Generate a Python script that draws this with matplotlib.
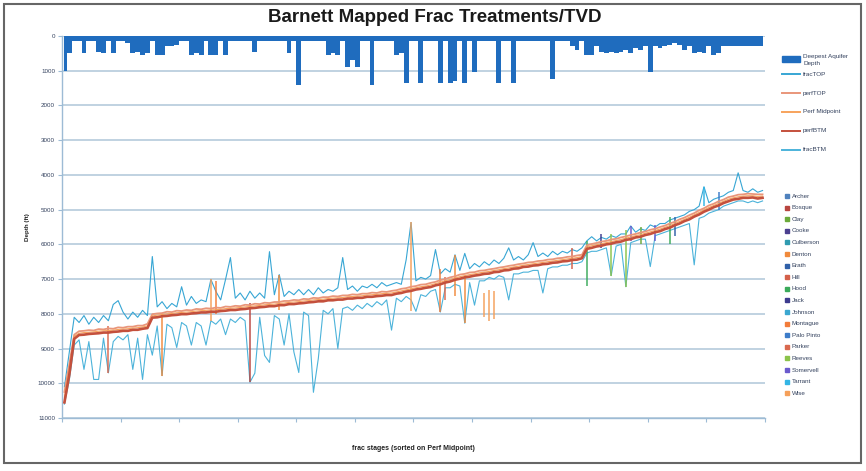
#Barnett mapped frac treatments vs TVD
import numpy as np
import matplotlib
matplotlib.use("Agg")
import matplotlib.pyplot as plt
from matplotlib.lines import Line2D
from matplotlib.patches import Rectangle

plt.rcParams['font.family'] = ['Liberation Sans', 'DejaVu Sans']

# --- data (depths in ft, one value per frac stage, stages sorted on perf midpoint) ---
perf_mid = [
    10400, 9600, 8650, 8560, 8540, 8530, 8520, 8500, 8490, 8480, 8470, 8450, 8440, 8430, 8410, 8400, 8380, 8350,
    8060, 8040, 8020, 8000, 7990, 7970, 7960, 7950, 7940, 7920, 7910, 7900, 7890, 7880, 7870, 7850, 7840, 7830,
    7820, 7800, 7790, 7770, 7760, 7740, 7730, 7720, 7700, 7690, 7670, 7660, 7650,
    7630, 7620, 7600, 7590, 7580, 7560, 7550, 7540, 7530, 7510, 7500, 7490, 7480, 7460, 7450, 7440, 7420, 7410, 7400,
    7370, 7340, 7310, 7280, 7250, 7220, 7200, 7170, 7130, 7090, 7050, 7010, 6970, 6930,
    6900, 6870, 6850, 6820, 6800, 6780, 6750, 6730, 6700, 6680, 6650, 6630, 6600, 6580, 6560, 6540, 6520, 6500,
    6480, 6460, 6440, 6420, 6400, 6380, 6350,
    6080, 6040, 6010, 5980, 5950, 5920, 5890, 5860, 5820, 5790, 5750, 5720, 5680, 5640, 5600, 5560, 5510, 5460, 5400, 5340,
    5280, 5220, 5150, 5080, 5010, 4940, 4880, 4820, 4760, 4700, 4660, 4630, 4610, 4600, 4600, 4620, 4610]

perf_top = [
    10250, 9450, 8600, 8500, 8490, 8470, 8480, 8440, 8450, 8420, 8430, 8390, 8400, 8370, 8370, 8340, 8340, 8290,
    8010, 7990, 7980, 7940, 7950, 7910, 7920, 7890, 7900, 7860, 7870, 7840, 7850, 7820, 7830, 7790, 7800, 7770,
    7780, 7740, 7750, 7710, 7720, 7680, 7690, 7660, 7660, 7630, 7630, 7600, 7610,
    7570, 7580, 7540, 7550, 7520, 7520, 7490, 7500, 7470, 7470, 7440, 7450, 7420, 7420, 7390, 7400, 7360, 7370, 7340,
    7320, 7280, 7260, 7220, 7200, 7160, 7150, 7110, 7080, 7030, 7000, 6950, 6920, 6870,
    6850, 6810, 6800, 6760, 6750, 6720, 6700, 6670, 6650, 6620, 6600, 6570, 6550, 6520, 6510, 6480, 6470, 6440,
    6430, 6400, 6390, 6360, 6350, 6320, 6300,
    6030, 5990, 5960, 5920, 5900, 5860, 5840, 5800, 5770, 5730, 5700, 5660, 5630, 5580, 5550, 5500, 5460, 5400, 5350, 5280,
    5230, 5160, 5100, 5020, 4960, 4880, 4830, 4760, 4710, 4640, 4610, 4570, 4560, 4540, 4550, 4560, 4560]

perf_btm = [
    10550, 9750, 8720, 8610, 8600, 8580, 8570, 8560, 8540, 8540, 8520, 8510, 8490, 8490, 8460, 8460, 8430, 8410,
    8110, 8100, 8070, 8060, 8040, 8030, 8010, 8010, 7990, 7980, 7960, 7960, 7940, 7940, 7920, 7910, 7890, 7890,
    7870, 7860, 7840, 7830, 7810, 7800, 7780, 7780, 7750, 7750, 7720, 7720, 7700,
    7690, 7670, 7660, 7640, 7640, 7610, 7610, 7590, 7590, 7560, 7560, 7540, 7540, 7510, 7510, 7490, 7480, 7460, 7460,
    7420, 7400, 7360, 7340, 7300, 7280, 7250, 7230, 7180, 7150, 7100, 7070, 7020, 6990,
    6950, 6930, 6900, 6880, 6850, 6840, 6800, 6790, 6750, 6740, 6700, 6690, 6650, 6640, 6610, 6600, 6570, 6560,
    6530, 6520, 6490, 6480, 6450, 6440, 6400,
    6130, 6100, 6060, 6040, 6000, 5980, 5940, 5920, 5870, 5850, 5800, 5780, 5730, 5700, 5650, 5620, 5560, 5520, 5450, 5400,
    5330, 5280, 5200, 5140, 5060, 5000, 4930, 4880, 4810, 4760, 4710, 4690, 4660, 4660, 4650, 4680, 4660]

frac_top = [
    10100, 9100, 8100, 8250, 8050, 8300, 8100, 8250, 8050, 8200, 7730, 7620, 7950, 8150, 7950, 8100, 7900, 8050,
    6350, 7800, 7650, 7850, 7700, 7800, 7220, 7750, 7500, 7700, 7600, 7650, 7010, 7350, 7600, 7010, 6380, 7550,
    7400, 7600, 7350, 7550, 7400, 7550, 6210, 7450, 6870, 7500, 7350, 7450, 7300,
    7450, 7300, 7450, 7250, 7400, 7300, 7350, 7250, 6380, 7300, 7200, 7350, 7200, 7250, 7150, 7250, 7100, 7200, 7150,
    7100, 7150, 6440, 5370, 7050, 6950, 7000, 6900, 6150, 6850, 6700, 6800, 6300, 6750,
    6260, 6700, 6550, 6650, 6500, 6600, 6450, 6550, 6400, 6100, 6450, 6350, 6450, 6300, 5950, 6350, 6250, 6350,
    6200, 6300, 6200, 6250, 6150, 6200, 6100,
    5900, 5780, 5900, 5800, 5850, 5750, 5800, 5700, 5700, 5470, 5650, 5550, 5600, 5440, 5500, 5400, 5400, 5300, 5250, 5200,
    5150, 5050, 5000, 4900, 4340, 4800, 4700, 4650, 4600, 4500, 4450, 3940, 4450, 4500, 4400, 4500, 4450]

frac_btm = [
    10600, 9900, 8900, 8750, 9600, 8800, 9890, 9890, 8700, 9700, 8800, 8650, 8750, 8600, 9600, 8700, 9890, 8600,
    9190, 8350, 9780, 8300, 8400, 8970, 8250, 8350, 8900, 8250, 8350, 8900, 8200, 8300, 8150, 8600, 8150, 8250,
    8100, 8200, 9970, 9710, 8100, 9200, 9400, 8050, 8150, 8900, 8000, 9100, 9690,
    7950, 8050, 10260, 9290, 7900, 8000, 7850, 9000, 7850, 7800, 7900, 7750, 7850, 7700, 7800, 7650, 7750, 7600, 8470,
    7550, 7650, 7500, 7600, 7930, 7450, 7500, 7350, 7300, 7950, 7250, 7250, 7150, 7200,
    8270, 7100, 7750, 7050, 7050, 6950, 7000, 6900, 6950, 7600, 6850, 6850, 6800, 6800, 6750, 6750, 7400, 6700,
    6650, 6650, 6600, 6600, 6550, 6550, 6500,
    6250, 6200, 6200, 6150, 6100, 6900, 6050, 6000, 7220, 5950, 5900, 5850, 5850, 6640, 5750, 5700, 5650, 5600, 5550, 5500,
    5450, 5400, 6590, 5250, 5200, 5100, 5050, 5000, 4900, 4850, 4800, 4750, 4750, 4800, 4750, 4800, 4750]

aquifer_depth = [
    1000, 500, 150, 150, 500, 150, 150, 450, 500, 150, 500, 150, 150, 200, 500, 450, 550, 500,
    150, 550, 550, 300, 300, 250, 150, 150, 550, 500, 550, 150, 550, 550, 150, 550, 150, 150,
    150, 150, 150, 450, 150, 150, 150, 150, 150, 150, 500, 150, 1400,
    150, 150, 150, 150, 150, 550, 500, 550, 150, 900, 700, 900, 150, 150, 1400, 150, 150, 150, 150,
    550, 500, 1350, 150, 150, 1350, 150, 150, 150, 1350, 150, 1350, 1300, 150,
    1350, 150, 1050, 150, 150, 150, 150, 1350, 150, 150, 1350, 150, 150, 150, 150, 150, 150, 150,
    1250, 150, 150, 150, 300, 400, 150,
    550, 550, 300, 450, 500, 450, 500, 450, 400, 500, 350, 400, 300, 1050, 300, 350, 300, 250, 200, 250,
    400, 300, 500, 450, 500, 300, 550, 500, 300, 300, 300, 300, 300, 300, 300, 300, 300]

counties = ["Archer", "Bosque", "Clay", "Cooke", "Culberson", "Denton", "Erath", "Hill", "Hood",
            "Jack", "Johnson", "Montague", "Palo Pinto", "Parker", "Reeves", "Somervell", "Tarrant", "Wise"]

# county-coloured frac intervals overlaid on the stage plot (stage, top, bottom)
ov_county = ["Wise", "Wise", "Wise", "Wise", "Wise", "Denton", "Denton", "Denton", "Denton",
             "Parker", "Parker", "Hood", "Hood", "Reeves", "Reeves", "Somervell", "Somervell",
             "Jack", "Bosque", "Tarrant", "Palo Pinto", "Montague", "Montague", "Hill", "Clay", "Erath"]
ov_stage = [71, 86, 87, 88, 30, 20, 44, 80, 82, 9, 78, 107, 124, 112, 115, 116, 121, 110, 38, 131, 134, 31, 77,
            104, 118, 125]
ov_top = [5370, 7400, 7300, 7350, 7010, 8000, 6870, 6300, 6900, 8350, 6950, 5900, 5200, 5700, 5600, 5470, 5450,
          5700, 7700, 4340, 4500, 7050, 6700, 6100, 5500, 5200]
ov_btm = [7930, 8100, 8200, 8150, 8200, 9780, 7900, 7500, 8270, 9700, 7600, 7200, 6000, 6900, 7220, 5900, 5900,
          6100, 9970, 4900, 5000, 8000, 7950, 6700, 6000, 5750]

# --- styles ---
county_colors = ['#4F81BD', '#B8453F', '#6BAA3A', '#4B3F8F', '#2F9BB0', '#F08A3C', '#3060A8', '#D4604A', '#3AAA5A',
                 '#3D3B8E', '#3BA7D0', '#F27C3A', '#3D7CC9', '#D9694F', '#8BC34A', '#6A5ACD', '#33B5E5', '#F5A05A']
c_aq = '#1F6CBE'
c_ftop = '#37A6D4'
c_fbtm = '#4CB3DA'
c_ptop = '#E9967A'
c_pmid = '#F7A35C'
c_pbtm = '#C4503C'
txt_c = '#34425E'

n = len(perf_mid)
x = np.arange(n) + 0.5

fig = plt.figure(figsize=(8.66, 4.71), dpi=100)
ax = fig.add_axes([62/866, 1-418/471, (765-62)/866, (418-36)/471])

ax.fill_between(x, 0, aquifer_depth, step='mid', color=c_aq, lw=0, zorder=2)
ax.plot(x, frac_top, color=c_ftop, lw=0.8, zorder=3)
ax.plot(x, frac_btm, color=c_fbtm, lw=0.8, zorder=3)

ccol = dict(zip(counties, county_colors))
for cn, st, t, b in zip(ov_county, ov_stage, ov_top, ov_btm):
    ax.vlines(st + 0.5, t, b, color=ccol[cn], lw=1.4, alpha=0.75, zorder=4)

ax.plot(x, perf_top, color=c_ptop, lw=1.3, zorder=5)
ax.plot(x, perf_mid, color=c_pmid, lw=0.8, zorder=5)
ax.plot(x, perf_btm, color=c_pbtm, lw=1.9, zorder=6)

ax.set_xlim(0, n)
ax.set_ylim(11000, 0)
ax.set_yticks(np.arange(0, 11001, 1000))
ax.set_xticks(np.arange(0, n + 1, 12))
ax.set_xticklabels([])
ax.tick_params(axis='y', labelsize=4.5, labelcolor=txt_c, length=3, color='#9DBBD5', width=0.8, pad=2)
ax.tick_params(axis='x', length=3, color='#9DBBD5', width=0.8, direction='out')
ax.grid(axis='y', color='#AFC6D9', lw=1.1, zorder=0)
for s in ['top', 'right']:
    ax.spines[s].set_visible(False)
for s in ['left', 'bottom']:
    ax.spines[s].set_color('#9DBBD5')
    ax.spines[s].set_linewidth(1.0)

ax.set_ylabel("Depth (ft)", fontsize=4.5, fontweight='bold', color='#222')
ax.yaxis.set_label_coords(-0.045, 0.5)
ax.set_xlabel("frac stages (sorted on Perf Midpoint)", fontsize=5, fontweight='bold', color='#222', labelpad=13)

fig.text(435/866, 1-18/471, "Barnett Mapped Frac Treatments/TVD", ha='center', va='center',
         fontsize=13.5, fontweight='bold', color='#1a1a1a')

# legend 1: series
def fx(px):
    return px / 866
def fy(py):
    return 1 - py / 471

fig.add_artist(Rectangle((fx(782), fy(62)), fx(18), 6/471, color=c_aq, transform=fig.transFigure))
fig.text(fx(803), fy(60), "Deepest Aquifer\nDepth", fontsize=4.6, color=txt_c, va='center', linespacing=1.5)
leg1 = [("fracTOP", c_ftop), ("perfTOP", c_ptop), ("Perf Midpoint", c_pmid), ("perfBTM", c_pbtm), ("fracBTM", c_fbtm)]
for i, (lab, col) in enumerate(leg1):
    yy = 74 + i * 19
    fig.add_artist(Line2D([fx(782), fx(800)], [fy(yy), fy(yy)], color=col, lw=1.4, transform=fig.transFigure))
    fig.text(fx(803), fy(yy), lab, fontsize=4.6, color=txt_c, va='center')

# legend 2: counties
for i, (cn, col) in enumerate(zip(counties, county_colors)):
    yy = 196 + i * 11.6
    fig.add_artist(Rectangle((fx(785), fy(yy) - 2/471), 4/866, 4/471, color=col, transform=fig.transFigure))
    fig.text(fx(792), fy(yy), cn, fontsize=4.5, color=txt_c, va='center')

# outer frame
fig.add_artist(Rectangle((4/866, 1-463/471), 857/866, 459/471, fill=False, ec='#666666', lw=1.5,
                         transform=fig.transFigure))

fig.savefig("out.png", dpi=100)
